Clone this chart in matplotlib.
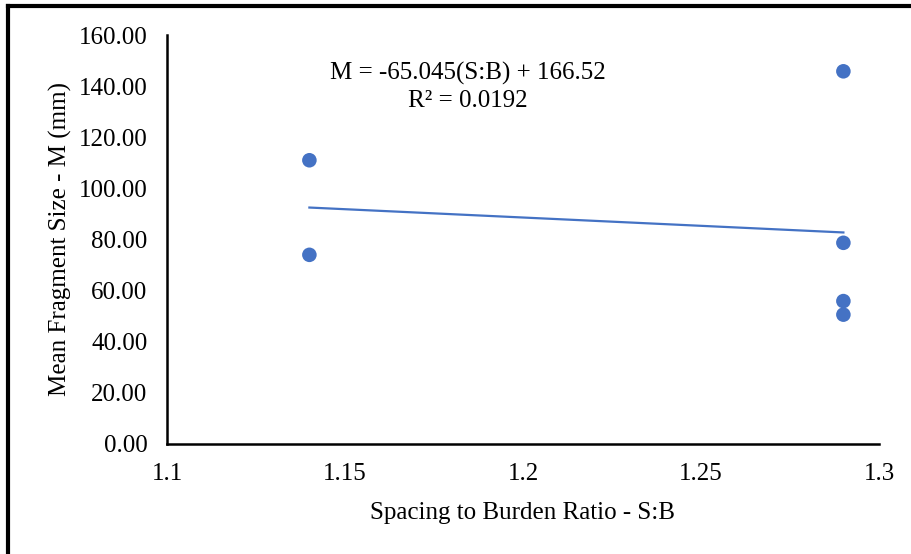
import matplotlib
matplotlib.use("Agg")
import matplotlib.pyplot as plt
import numpy as np

# S:B ratio vs mean fragment size
sb_ratio = [1.14, 1.14, 1.29, 1.29, 1.29, 1.29]
frag_size = [111.0, 74.0, 145.8, 78.7, 55.9, 50.6]
trend_text = "M = -65.045(S:B) + 166.52\nR² = 0.0192"

plt.rcParams['font.family'] = ['Liberation Serif', 'DejaVu Serif']
fs = 18

fig = plt.figure(figsize=(9.12, 5.54), dpi=100)
ax = fig.add_axes([0.1831, 0.1986, 0.7807, 0.7382])

ax.scatter(sb_ratio, frag_size, s=110, color='#4472C4', zorder=3, edgecolors='none')

# linear trendline
k, b = np.polyfit(sb_ratio, frag_size, 1)
xs = np.array([min(sb_ratio), max(sb_ratio)])
ax.plot(xs, k * xs + b, color='#4472C4', lw=1.6)

ax.text(0.422, 0.935, trend_text, transform=ax.transAxes, ha='center', va='top',
        fontsize=fs, linespacing=1.3)

ax.set_xlim(1.1, 1.3)
ax.set_ylim(0, 160)
ax.set_xticks([1.1, 1.15, 1.2, 1.25, 1.3])
ax.set_xticklabels(['1.1', '1.15', '1.2', '1.25', '1.3'])
ax.set_yticks(np.arange(0, 161, 20))
ax.set_yticklabels(['%.2f' % v for v in np.arange(0, 161, 20)])
ax.tick_params(length=0, labelsize=fs, pad=14)
ax.tick_params(axis='x', pad=14)

for s in ['top', 'right']:
    ax.spines[s].set_visible(False)
ax.spines['left'].set_linewidth(1.8)
ax.spines['bottom'].set_linewidth(1.8)

ax.set_xlabel('Spacing to Burden Ratio - S:B', fontsize=fs, labelpad=12)
ax.set_ylabel('Mean Fragment Size - M (mm)', fontsize=fs, labelpad=5)

# outer frame (left and top edges only)
fig.add_artist(plt.Line2D([0.0088, 0.0088], [0, 0.989], transform=fig.transFigure, color='black', lw=3))
fig.add_artist(plt.Line2D([0.0088, 1.0], [0.989, 0.989], transform=fig.transFigure, color='black', lw=3))

fig.savefig('out.png', dpi=100)
